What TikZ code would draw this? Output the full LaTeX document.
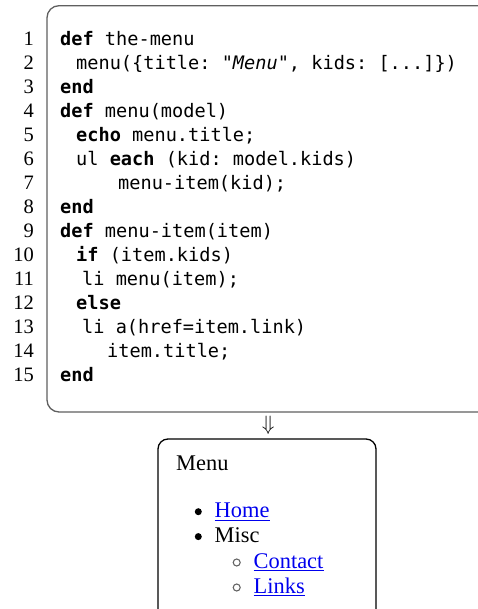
\documentclass[tikz,border=0pt]{standalone}
\usepackage{fontspec}
\setmainfont{Liberation Serif}
\setmonofont{DejaVu Sans Mono}
\definecolor{linkblue}{RGB}{0,0,238}
\definecolor{framegray}{RGB}{95,95,95}
\definecolor{ringgray}{RGB}{100,100,100}
\begin{document}
\begin{tikzpicture}[x=1pt,y=-1pt,
  lineno/.style={anchor=base east, inner sep=0pt, font=\fontsize{20.5}{20.5}\selectfont},
  codeline/.style={anchor=base west, inner sep=0pt, font=\fontsize{18.6}{18.6}\ttfamily},
  htmltext/.style={anchor=base west, inner sep=0pt, font=\fontsize{22.4}{22.4}\selectfont},
  linktext/.style={htmltext, text=linkblue},
  underl/.style={draw=linkblue, line width=1pt},
  frame/.style={line width=1.3pt},
  disc/.style={circle, fill=black, inner sep=0pt, minimum size=7pt},
  ring/.style={circle, draw=ringgray, line width=1.1pt, inner sep=0pt, minimum size=7pt}
]
\useasboundingbox (0,0) rectangle (478,609);
\clip (0,0) rectangle (478,609);

% source listing frame and rendered output frame
\draw[frame, draw=framegray, rounded corners=12pt] (47,5.7) rectangle (520,412);
\draw[frame, draw=black, rounded corners=10pt] (158,439) rectangle (376,660);

% line numbers
\foreach \i in {1,...,15}
  \node[lineno] (n\i) at (34, {45.7+23.95*(\i-1)}) {\i};

% template source
\node[codeline] (l1)  at (60,  45.70) {\textbf{def} the-menu};
\node[codeline] (l2)  at (76,  69.65) {menu(\{title: "\textit{Menu}", kids: [...]\})};
\node[codeline] (l3)  at (60,  93.60) {\textbf{end}};
\node[codeline] (l4)  at (60, 117.55) {\textbf{def} menu(model)};
\node[codeline] (l5)  at (76, 141.50) {\textbf{echo} menu.title;};
\node[codeline] (l6)  at (76, 165.45) {ul \textbf{each} (kid: model.kids)};
\node[codeline] (l7)  at (118,189.40) {menu-item(kid);};
\node[codeline] (l8)  at (60, 213.35) {\textbf{end}};
\node[codeline] (l9)  at (60, 237.30) {\textbf{def} menu-item(item)};
\node[codeline] (l10) at (76, 261.25) {\textbf{if} (item.kids)};
\node[codeline] (l11) at (82, 285.20) {li menu(item);};
\node[codeline] (l12) at (76, 309.15) {\textbf{else}};
\node[codeline] (l13) at (82, 333.10) {li a(href=item.link)};
\node[codeline] (l14) at (107,357.05) {item.title;};
\node[codeline] (l15) at (60, 381.00) {\textbf{end}};

% arrow between source and result
\node[inner sep=0pt, font=\fontsize{20}{20}\selectfont] (arr) at (268.3,425.8) {$\Downarrow$};

% rendered menu
\node[htmltext] (title) at (176,470) {Menu};
\node[disc] (b1) at (198.3,511.7) {};
\node[linktext] (home) at (214.5,517.5) {Home};
\draw[underl] ([yshift=-2.5pt]home.base west) -- ([yshift=-2.5pt]home.base east);
\node[disc] (b2) at (198.3,536.6) {};
\node[htmltext] (misc) at (214.5,542.5) {Misc};
\node[ring] (r1) at (236.7,562.5) {};
\node[linktext] (contact) at (253.5,568) {Contact};
\draw[underl] ([yshift=-2.5pt]contact.base west) -- ([yshift=-2.5pt]contact.base east);
\node[ring] (r2) at (236.7,587.5) {};
\node[linktext] (links) at (253.5,593.2) {Links};
\draw[underl] ([yshift=-2.5pt]links.base west) -- ([yshift=-2.5pt]links.base east);
\end{tikzpicture}
\end{document}
